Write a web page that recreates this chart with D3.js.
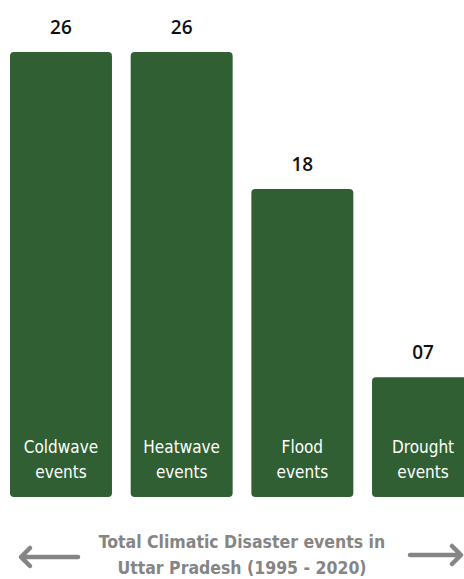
<!DOCTYPE html>
<html>
<head>
<meta charset="utf-8">
<script src="https://cdn.jsdelivr.net/npm/d3@7"></script>
<style>
  body { margin: 0; background: #fff; }
  text { font-family: "DejaVu Sans Condensed", Roboto, sans-serif; }
</style>
</head>
<body>
<div id="chart"></div>
<script>
// data
var categories = ["Coldwave events", "Heatwave events", "Flood events", "Drought events"];
var values = [26, 26, 18, 7];
var valueLabels = ["26", "26", "18", "07"];
var caption = ["Total Climatic Disaster events in", "Uttar Pradesh (1995 - 2020)"];

var width = 464, height = 579;
var baseline = 497;

var svg = d3.select("#chart")
  .append("svg")
  .attr("width", width)
  .attr("height", height);

// scales
var x = d3.scaleBand()
  .domain(categories)
  .range([10, 474])
  .paddingInner(0.155)
  .paddingOuter(0);

var y = d3.scaleLinear()
  .domain([0, 26])
  .range([baseline, 52]);

var barColor = "#2f5f33";

// bars
svg.selectAll("rect.bar")
  .data(categories)
  .enter()
  .append("rect")
  .attr("class", "bar")
  .attr("x", function (d) { return x(d); })
  .attr("y", function (d, i) { return y(values[i]); })
  .attr("width", x.bandwidth())
  .attr("height", function (d, i) { return baseline - y(values[i]); })
  .attr("rx", 4)
  .style("fill", barColor);

// value labels on top
svg.selectAll("text.val")
  .data(categories)
  .enter()
  .append("text")
  .attr("class", "val")
  .attr("x", function (d) { return x(d) + x.bandwidth() / 2; })
  .attr("y", function (d, i) { return y(values[i]) - 18; })
  .attr("text-anchor", "middle")
  .style("font-family", "'Open Sans', sans-serif")
  .style("font-size", "19px")
  .style("font-weight", 600)
  .style("fill", "#111")
  .text(function (d, i) { return valueLabels[i]; });

// category labels inside bars
categories.forEach(function (c) {
  var words = c.split(" ");
  var cx = x(c) + x.bandwidth() / 2;
  var t = svg.append("text")
    .attr("x", cx)
    .attr("y", 453)
    .attr("text-anchor", "middle")
    .style("font-size", "17px")
    .style("fill", "#fff");
  t.append("tspan").attr("x", cx).attr("dy", 0).text(words[0]);
  t.append("tspan").attr("x", cx).attr("dy", 25).text(words[1]);
});

// caption
var cap = svg.append("text")
  .attr("x", 242)
  .attr("y", 548)
  .attr("text-anchor", "middle")
  .style("font-size", "17.5px")
  .style("font-weight", "bold")
  .style("fill", "#858585");
cap.append("tspan").attr("x", 242).attr("dy", 0).text(caption[0]);
cap.append("tspan").attr("x", 242).attr("dy", 26).text(caption[1]);

// arrows
var grey = "#858585";
svg.append("path")
  .attr("d", "M21,557 L78,557 M30,548 L21,557 L30,566")
  .style("fill", "none")
  .style("stroke", grey)
  .style("stroke-width", 4.5)
  .style("stroke-linecap", "round")
  .style("stroke-linejoin", "round");
svg.append("path")
  .attr("d", "M410,555 L460,555 M452,546 L461,555 L452,564")
  .style("fill", "none")
  .style("stroke", grey)
  .style("stroke-width", 4.5)
  .style("stroke-linecap", "round")
  .style("stroke-linejoin", "round");
</script>
</body>
</html>
